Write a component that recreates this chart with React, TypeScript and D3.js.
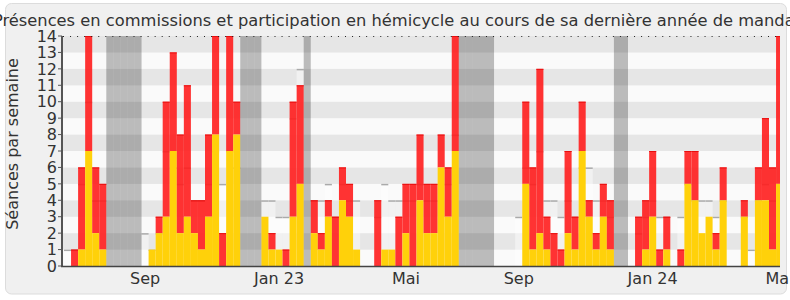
import React from "react";
import * as d3 from "d3";

// ---- data (one entry per week) ----
const commissionPresence = [
  0, 0, 1, 7, 2, 1, 0, 0, 0, 0, 0, 0, 1, 2, 3, 7, 2, 3, 2, 1,
  3, 8, 0, 7, 8, 0, 0, 0, 3, 1, 1, 0, 3, 5, 0, 2, 1, 3, 0, 4,
  3, 1, 0, 0, 0, 1, 1, 0, 2, 0, 4, 2, 2, 6, 3, 7, 0, 0, 0, 0,
  0, 0, 0, 0, 0, 5, 1, 2, 1, 0, 0, 2, 1, 7, 3, 1, 3, 1, 0, 0,
  0, 0, 1, 3, 0, 1, 0, 0, 5, 4, 2, 3, 1, 4, 0, 0, 3, 0, 4, 4,
  1, 5,
];
const hemicycleParticipation = [
  0, 1, 5, 7, 4, 4, 0, 0, 0, 0, 0, 0, 0, 1, 7, 6, 6, 8, 2, 3,
  5, 6, 2, 7, 2, 0, 0, 0, 0, 1, 0, 1, 7, 6, 0, 2, 1, 1, 3, 2,
  2, 0, 0, 0, 4, 0, 0, 3, 3, 5, 4, 3, 3, 2, 3, 7, 0, 0, 0, 0,
  0, 0, 0, 0, 0, 5, 5, 10, 2, 2, 1, 5, 2, 3, 1, 1, 2, 3, 0, 0,
  0, 3, 3, 4, 1, 2, 0, 1, 2, 3, 0, 0, 1, 2, 0, 0, 1, 0, 2, 5,
  5, 9,
];
const medianPresence = [
  1, 1, 5, 10, 4, 4, 0, 0, 0, 0, 0, 2, 1, 2, 7, 6, 5, 6, 4, 4,
  5, 7, 5, 7, 6, 0, 0, 0, 4, 4, 3, 3, 9, 12, 0, 4, 4, 5, 3, 5,
  4, 4, 0, 0, 3, 5, 4, 4, 4, 4, 5, 4, 4, 5, 5, 8, 0, 0, 0, 0,
  0, 0, 0, 0, 3, 6, 5, 7, 4, 4, 3, 4, 3, 6, 6, 4, 4, 3, 0, 0,
  0, 2, 3, 4, 3, 3, 0, 3, 5, 4, 4, 4, 3, 4, 0, 0, 3, 1, 4, 5,
  4, 5,
];
const vacationWeeks = [6, 7, 8, 9, 10, 25, 26, 27, 34, 56, 57, 58, 59, 60, 78, 79];
const tickWeeks = [11, 30, 48, 64, 83, 101];
const tickLabels = ["Sep", "Jan 23", "Mai", "Sep", "Jan 24", "Mai"];
const yTicks = d3.range(0, 15);

const TITLE =
  "Présences en commissions et participation en hémicycle au cours de sa dernière année de mandat";
const FONT = "'DejaVu Sans', Verdana, sans-serif";

export default function App() {
  const W = 790;
  const H = 300;
  const left = 62;
  const right = 780;
  const top = 36;
  const bottom = 266;
  const nWeeks = commissionPresence.length;

  const x = d3
    .scaleBand<number>()
    .domain(d3.range(nWeeks))
    .range([64, 64 + nWeeks * 7.05])
    .padding(0);
  const y = d3.scaleLinear().domain([0, 14]).range([bottom, top]);
  const bw = x.bandwidth();

  const rows = d3.range(0, 14);
  const vac = new Set(vacationWeeks);

  return (
    <svg
      width={W}
      height={H}
      style={{ position: "absolute", left: 0, top: 0, background: "#ffffff" }}
      fontFamily={FONT}
    >
      <defs>
        <clipPath id="plot">
          <rect x={left + 1} y={top} width={right - left - 1} height={bottom - top} />
        </clipPath>
      </defs>
      <rect x={5.5} y={3.5} width={781} height={290.5} rx={6} fill="#f0f0f0" stroke="#dcdcdc" />
      <text x={397} y={26} textAnchor="middle" fontSize={16.3} fill="#333">
        {TITLE}
      </text>

      <g clipPath="url(#plot)">
        {rows.map((v) => (
          <rect
            key={"s" + v}
            x={left}
            y={y(v + 1)}
            width={right - left}
            height={y(v) - y(v + 1)}
            fill={v % 2 === 0 ? "#fafafa" : "#e6e6e6"}
          />
        ))}
        {/* median of all deputies */}
        {medianPresence.map((m, i) =>
          m > 0 && !vac.has(i) ? (
            <g key={"m" + i}>
              <rect x={x(i)} y={y(m)} width={bw} height={y(0) - y(m)} fill="#ffffff" opacity={0.45} />
              <line x1={x(i)} x2={(x(i) as number) + bw} y1={y(m) + 0.75} y2={y(m) + 0.75} stroke="#aaaaaa" strokeWidth={1.5} />
            </g>
          ) : null
        )}
        {/* bars */}
        {commissionPresence.map((c, i) => {
          const h = hemicycleParticipation[i];
          const total = c + h;
          const xi = x(i) as number;
          return (
            <g key={"b" + i}>
              {h > 0 && (
                <rect x={xi} y={y(total)} width={bw} height={y(c) - y(total)} fill="#ff1d1d" fillOpacity={0.9} />
              )}
              {h > 0 && (
                <line x1={xi} x2={xi + bw} y1={y(total) + 0.5} y2={y(total) + 0.5} stroke="#e80f0f" strokeWidth={1} />
              )}
              {c > 0 && <rect x={xi} y={y(c)} width={bw} height={y(0) - y(c)} fill="#ffd10a" />}
            </g>
          );
        })}
        {/* vacations */}
        {vacationWeeks.map((w) => (
          <rect key={"v" + w} x={x(w)} y={top} width={bw} height={bottom - top} fill="#000" opacity={0.25} />
        ))}
      </g>

      {/* top dotted line */}
      <line x1={left} x2={right} y1={top + 0.5} y2={top + 0.5} stroke="#222" strokeWidth={1} strokeDasharray="1 6.05" strokeDashoffset={-1} />
      {/* axes */}
      <line x1={left} x2={left} y1={top} y2={bottom + 1} stroke="#555" strokeWidth={2} />
      <line x1={left - 1} x2={right} y1={bottom + 0.5} y2={bottom + 0.5} stroke="#444" strokeWidth={1.5} />
      {yTicks.map((t) => (
        <g key={"y" + t}>
          <line x1={left - 4} x2={left} y1={y(t)} y2={y(t)} stroke="#555" strokeWidth={1} />
          <text x={57} y={y(t)} dy="0.36em" textAnchor="end" fontSize={16} fill="#333">
            {t}
          </text>
        </g>
      ))}
      {tickWeeks.map((w, i) => (
        <text key={"x" + i} x={(x(w) as number) + bw / 2} y={284} textAnchor="middle" fontSize={16} fill="#333">
          {tickLabels[i]}
        </text>
      ))}
      <text
        transform={`translate(18, 144) rotate(-90)`}
        textAnchor="middle"
        fontSize={16}
        fill="#333"
      >
        Séances par semaine
      </text>
    </svg>
  );
}
